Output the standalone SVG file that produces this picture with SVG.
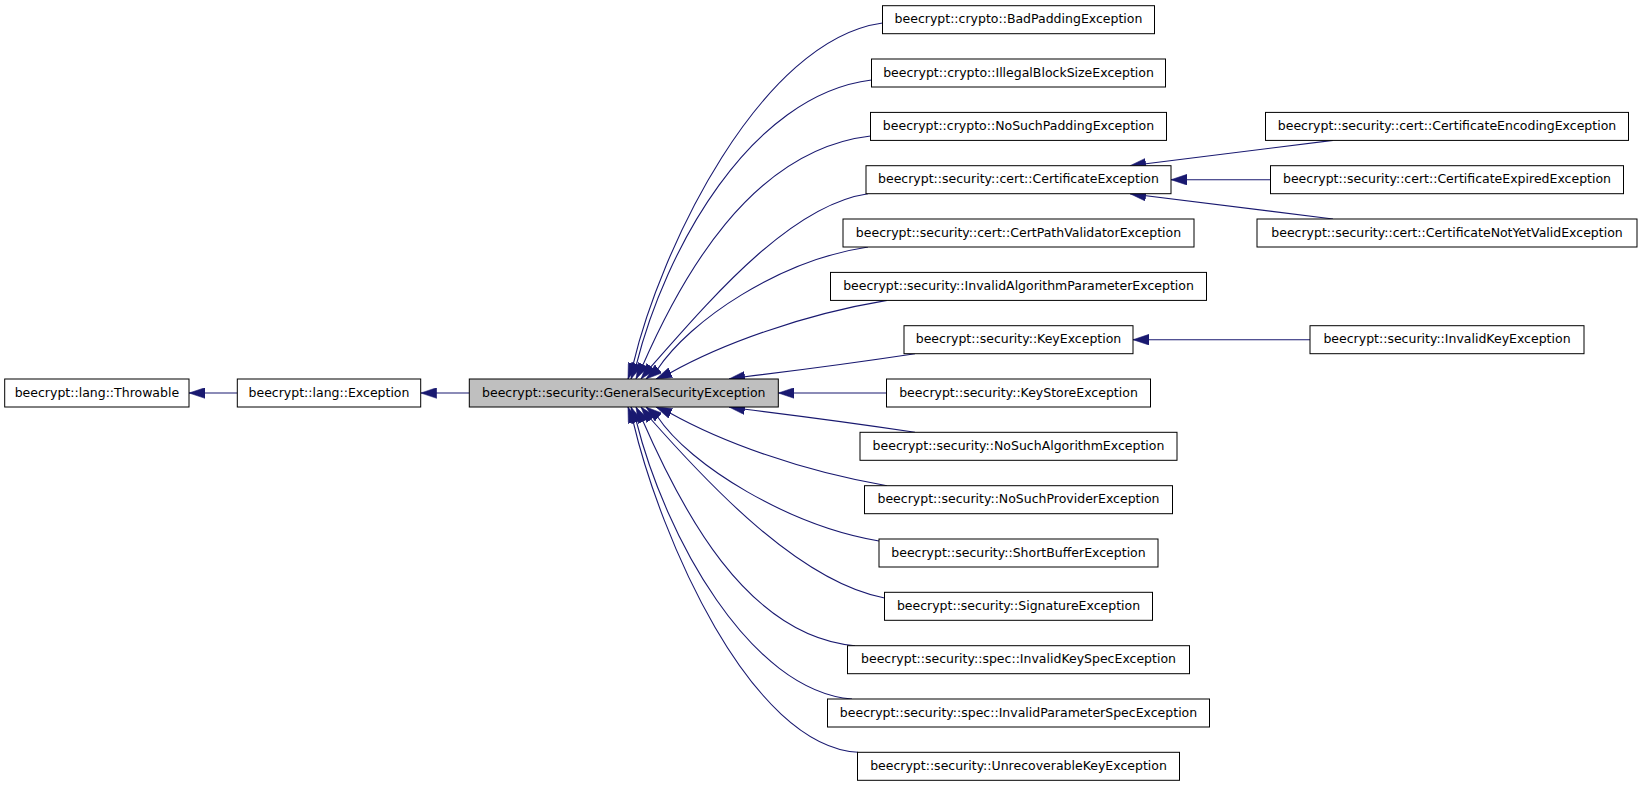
<svg xmlns="http://www.w3.org/2000/svg" width="1640" height="787" viewBox="0 0 1640 787">
<style>
.n rect{fill:#fff;stroke:#000;stroke-width:1}
.n.g rect{fill:#bfbfbf}
.n text{font-family:"DejaVu Sans","Liberation Sans",sans-serif;font-size:12.5px;fill:#000;text-anchor:middle}
.e path{fill:none;stroke:#191970;stroke-width:1.1;marker-end:url(#arr)}
</style>
<defs>
<marker id="arr" markerUnits="userSpaceOnUse" markerWidth="16" markerHeight="11" viewBox="0 0 15 10" refX="15" refY="5" orient="auto">
<path d="M0,0 L15,5 L0,10 z" fill="#191970" stroke="#191970" stroke-width="0.5"/>
</marker>
</defs>
<rect width="1640" height="787" fill="#fff"/>
<g id="edges" class="e">
<path d="M237.3,393 L189,393"/>
<path d="M469.3,393 L420.7,393"/>
<path d="M886.5,393 L778.3,393"/>
<path d="M1310,339.7 L1133,339.7"/>
<path d="M1270.5,179.7 L1171,179.7"/>
<path d="M1333,140.4 L1130,165.7"/>
<path d="M1333,219 L1130,193.7"/>
<path d="M882.5,23 C760,40 660,250 633,365 L628,379"/>
<path d="M871.5,80 C750,95 665,250 636,366 L631,379"/>
<path d="M870.5,136 C750,150 680,280 642,367 L636,379"/>
<path d="M868,193.7 C790,205 710,300 649,369 L641,379"/>
<path d="M868,247 C780,260 690,320 657,370 L646,379"/>
<path d="M887,300.4 C800,315 720,345 670,373 L656,379"/>
<path d="M915,353.7 C860,362 800,370 743,377 L729,379"/>
<path d="M915,432.3 C860,424 800,416 743,409 L729,407"/>
<path d="M887,485.7 C800,471 720,441 670,413 L656,407"/>
<path d="M879,541 C790,526 690,466 657,416 L646,407"/>
<path d="M884.5,598 C800,582 710,486 649,417 L641,407"/>
<path d="M855,645.7 C745,636 680,506 642,419 L636,407"/>
<path d="M852,699 C750,691 665,536 636,420 L631,407"/>
<path d="M858,752.3 C750,746 660,536 633,421 L628,407"/>
</g>
<g id="throwable" class="n"><rect x="4.7" y="379" width="184.3" height="28"/><text x="96.9" y="396.5">beecrypt::lang::Throwable</text></g>
<g id="exception" class="n"><rect x="237.3" y="379" width="183.4" height="28"/><text x="329" y="396.5">beecrypt::lang::Exception</text></g>
<g id="generalsecurity" class="n g"><rect x="469.3" y="379" width="309" height="28"/><text x="623.8" y="396.5">beecrypt::security::GeneralSecurityException</text></g>
<g id="badpadding" class="n"><rect x="882.5" y="5.7" width="272" height="28"/><text x="1018.5" y="23.2">beecrypt::crypto::BadPaddingException</text></g>
<g id="illegalblocksize" class="n"><rect x="871.5" y="59" width="294" height="28"/><text x="1018.5" y="76.5">beecrypt::crypto::IllegalBlockSizeException</text></g>
<g id="nosuchpadding" class="n"><rect x="870.5" y="112.4" width="296" height="28"/><text x="1018.5" y="129.9">beecrypt::crypto::NoSuchPaddingException</text></g>
<g id="certificate" class="n"><rect x="866" y="165.7" width="305" height="28"/><text x="1018.5" y="183.2">beecrypt::security::cert::CertificateException</text></g>
<g id="certpath" class="n"><rect x="843" y="219" width="351" height="28"/><text x="1018.5" y="236.5">beecrypt::security::cert::CertPathValidatorException</text></g>
<g id="invalidalgparam" class="n"><rect x="830.5" y="272.4" width="376" height="28"/><text x="1018.5" y="289.9">beecrypt::security::InvalidAlgorithmParameterException</text></g>
<g id="key" class="n"><rect x="904" y="325.7" width="229" height="28"/><text x="1018.5" y="343.2">beecrypt::security::KeyException</text></g>
<g id="keystore" class="n"><rect x="886.5" y="379" width="264" height="28"/><text x="1018.5" y="396.5">beecrypt::security::KeyStoreException</text></g>
<g id="nosuchalgorithm" class="n"><rect x="860" y="432.3" width="317" height="28"/><text x="1018.5" y="449.8">beecrypt::security::NoSuchAlgorithmException</text></g>
<g id="nosuchprovider" class="n"><rect x="864.5" y="485.7" width="308" height="28"/><text x="1018.5" y="503.2">beecrypt::security::NoSuchProviderException</text></g>
<g id="shortbuffer" class="n"><rect x="879" y="539" width="279" height="28"/><text x="1018.5" y="556.5">beecrypt::security::ShortBufferException</text></g>
<g id="signature" class="n"><rect x="884.5" y="592.3" width="268" height="28"/><text x="1018.5" y="609.8">beecrypt::security::SignatureException</text></g>
<g id="invalidkeyspec" class="n"><rect x="847.5" y="645.7" width="342" height="28"/><text x="1018.5" y="663.2">beecrypt::security::spec::InvalidKeySpecException</text></g>
<g id="invalidparamspec" class="n"><rect x="827.5" y="699" width="382" height="28"/><text x="1018.5" y="716.5">beecrypt::security::spec::InvalidParameterSpecException</text></g>
<g id="unrecoverablekey" class="n"><rect x="857.5" y="752.3" width="322" height="28"/><text x="1018.5" y="769.8">beecrypt::security::UnrecoverableKeyException</text></g>
<g id="certencoding" class="n"><rect x="1265.5" y="112.4" width="363" height="28"/><text x="1447" y="129.9">beecrypt::security::cert::CertificateEncodingException</text></g>
<g id="certexpired" class="n"><rect x="1270.5" y="165.7" width="353" height="28"/><text x="1447" y="183.2">beecrypt::security::cert::CertificateExpiredException</text></g>
<g id="certnotyetvalid" class="n"><rect x="1257" y="219" width="380" height="28"/><text x="1447" y="236.5">beecrypt::security::cert::CertificateNotYetValidException</text></g>
<g id="invalidkey" class="n"><rect x="1310" y="325.7" width="274" height="28"/><text x="1447" y="343.2">beecrypt::security::InvalidKeyException</text></g>
</svg>
